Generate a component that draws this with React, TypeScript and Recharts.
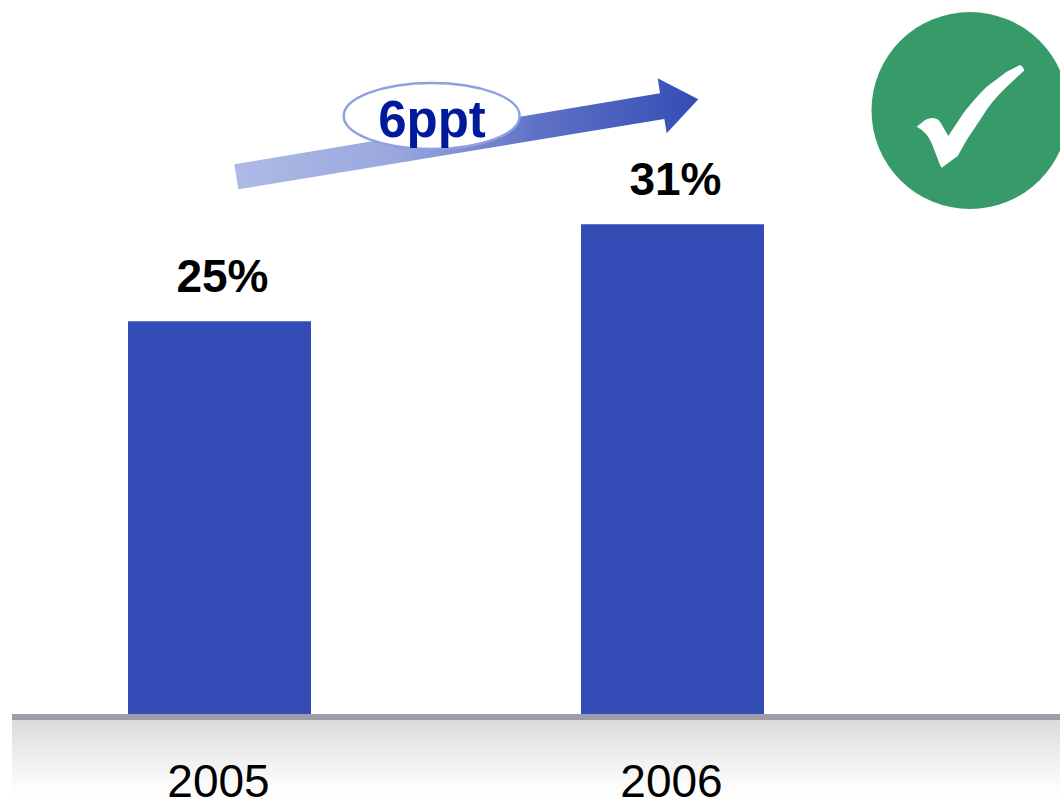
import React from "react";
import { BarChart, Bar, XAxis, YAxis, LabelList } from "recharts";

const years = ["2005", "2006"];
const shares = [24.85, 31];
const rows = years.map((year, i) => ({ year, share: shares[i] }));
const changeLabel = "6ppt";

const FONT = "'Liberation Sans', Arial, sans-serif";
const BLUE = "#344db6";

export default function App() {
  return (
    <div style={{ position: "absolute", left: 0, top: 0, width: 1060, height: 800, overflow: "hidden", background: "#fff" }}>
      <BarChart
        width={1060}
        height={800}
        data={rows}
        margin={{ top: 0, right: 0, bottom: 0, left: 12 }}
        style={{ fontFamily: FONT }}
      >
        <defs>
          <linearGradient id="floor" x1="0" y1="0" x2="0" y2="1">
            <stop offset="0%" stopColor="#dbdbdb" />
            <stop offset="45%" stopColor="#eeeeee" />
            <stop offset="85%" stopColor="#fdfdfd" />
            <stop offset="100%" stopColor="#ffffff" />
          </linearGradient>
          <linearGradient id="arrowFill" gradientUnits="userSpaceOnUse" x1="235" y1="0" x2="698" y2="0">
            <stop offset="0%" stopColor="#aebae6" />
            <stop offset="35%" stopColor="#99a7dd" />
            <stop offset="65%" stopColor="#6072c5" />
            <stop offset="100%" stopColor={BLUE} />
          </linearGradient>
        </defs>
        <rect x={12} y={720} width={1048} height={80} fill="url(#floor)" />
        <XAxis
          dataKey="year"
          scale="point"
          padding={{ left: 207.5, right: 387.5 }}
          height={86}
          tickLine={false}
          axisLine={false}
          interval={0}
          tick={{ fontSize: 46, fill: "#000", fontFamily: FONT, dy: 42, dx: -1 }}
        />
        <YAxis hide domain={[0, 45.19]} />
        <Bar dataKey="share" barSize={183} fill={BLUE} isAnimationActive={false}>
          <LabelList
            dataKey="share"
            position="top"
            offset={29}
            dx={3}
            formatter={(v: number) => `${Math.round(v)}%`}
            style={{ fontSize: 46, fontWeight: 700, fill: "#000", fontFamily: FONT }}
          />
        </Bar>
        <line x1={12} x2={1060} y1={717} y2={717} stroke="#9f9da8" strokeWidth={6} />
        <polygon
          points="234.3,164.3 660,93.3 657.7,78.3 698.3,99.3 666.7,133.3 664.3,119 238.3,189.3"
          fill="url(#arrowFill)"
        />
        <ellipse cx={431.7} cy={116} rx={88} ry={33} fill="#fff" stroke="#8fa0df" strokeWidth={2.5} />
        <text x={432} y={137} textAnchor="middle" fontSize={51} fontWeight={700} fill="#001a9c" fontFamily={FONT}>
          {changeLabel}
        </text>
        <circle cx={970} cy={110.5} r={98.5} fill="#379b69" />
        <path
          d="M916.7 126.7 L925 120 Q935 115.5 940 121.7 L948.3 136 L963.3 113.3 Q975 98 986.7 86.7 L1006.7 71.7 L1020 65 Q1024 67 1024 70.7 L1006.7 86.7 Q990 103 983.3 115 L966.7 140 L957.7 156 L941.7 167.7 L940 165 L931.7 143.3 Q927 132 916.7 126.7 Z"
          fill="#fff"
        />
      </BarChart>
    </div>
  );
}
